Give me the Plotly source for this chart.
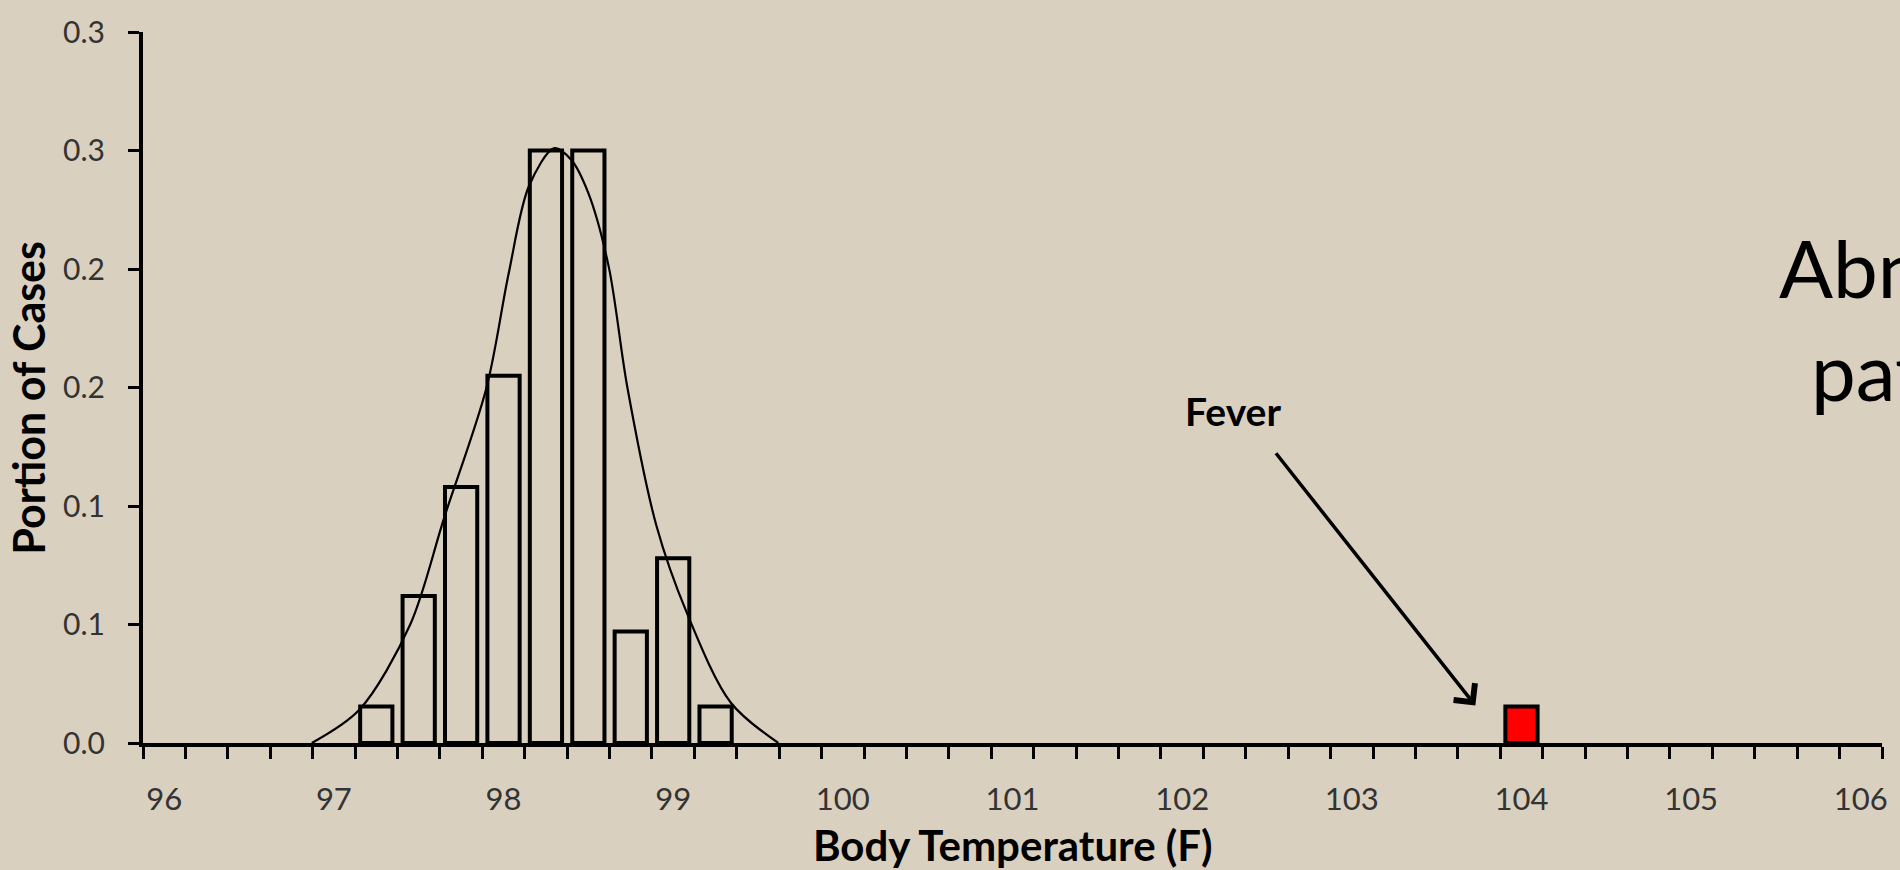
import plotly.graph_objects as go

# ---- data ----
temp_bins = [97.25, 97.5, 97.75, 98.0, 98.25, 98.5, 98.75, 99.0, 99.25]
portion = [0.0154, 0.062, 0.108, 0.155, 0.25, 0.25, 0.047, 0.078, 0.0154]
fever_bin = [104.0]
fever_portion = [0.0154]

curve_x = [96.87, 97.15, 97.45, 97.65, 97.90, 98.03, 98.15, 98.30, 98.40, 98.50,
           98.62, 98.73, 98.90, 99.08, 99.34, 99.62]
curve_y = [0.0, 0.014, 0.050, 0.095, 0.150, 0.198, 0.235, 0.251, 0.246, 0.232,
           0.201, 0.150, 0.092, 0.055, 0.017, 0.0]

x_tick_values = [96, 97, 98, 99, 100, 101, 102, 103, 104, 105, 106]
x_tick_labels = ["96", "97", "98", "99", "100", "101", "102", "103", "104", "105", "106"]
y_tick_values = [0.0, 0.05, 0.10, 0.15, 0.20, 0.25, 0.30]
y_tick_labels = ["0.0", "0.1", "0.1", "0.2", "0.2", "0.3", "0.3"]

x_title = "Body Temperature (F)"
y_title = "Portion of Cases"
fever_label = "Fever"
side_text = ["Abnormal", "pattern"]

FONT = "Lato"
BG = "#dad0bf"

fig = go.Figure()
fig.add_trace(go.Bar(
    x=temp_bins, y=portion, width=0.19,
    marker=dict(color="rgba(0,0,0,0)", line=dict(color="black", width=4)),
    showlegend=False, hoverinfo="skip",
))
fig.add_trace(go.Bar(
    x=fever_bin, y=fever_portion, width=0.19,
    marker=dict(color="#ff0000", line=dict(color="black", width=4)),
    showlegend=False, hoverinfo="skip",
))
fig.add_trace(go.Scatter(
    x=curve_x, y=curve_y, mode="lines",
    line=dict(color="black", width=2.2, shape="spline", smoothing=0.9),
    showlegend=False, hoverinfo="skip",
))

fig.update_layout(
    width=1900, height=870,
    paper_bgcolor=BG, plot_bgcolor="rgba(0,0,0,0)",
    margin=dict(l=143, r=14, t=24, b=127),
    font=dict(family=FONT, color="#333333"),
    barmode="overlay",
    xaxis=dict(
        range=[95.875, 106.125],
        tickvals=x_tick_values, ticktext=x_tick_labels,
        ticks="", showgrid=False, zeroline=False,
        showline=True, linecolor="black", linewidth=4,
        tickfont=dict(family=FONT, size=31, color="#333333"),
        ticklabelstandoff=26,
        minor=dict(ticks="outside", tick0=95.875, dtick=0.25, ticklen=12,
                   tickwidth=3, tickcolor="black", showgrid=False),
    ),
    yaxis=dict(
        range=[0, 0.30],
        tickvals=y_tick_values, ticktext=y_tick_labels,
        ticks="outside", ticklen=11, tickwidth=3, tickcolor="black",
        showgrid=False, zeroline=False,
        showline=True, linecolor="black", linewidth=4,
        tickfont=dict(family=FONT, size=30, color="#333333"),
        ticklabelstandoff=17,
    ),
)

annotations = [
    dict(text="<b>" + x_title + "</b>", xref="paper", yref="paper",
         x=0.5, y=-0.1766, xanchor="center", yanchor="bottom", yshift=-3,
         showarrow=False, font=dict(family=FONT, size=42, color="black")),
    dict(text="<b>" + y_title + "</b>", xref="paper", yref="paper",
         x=-0.066, y=0.486, xanchor="center", yanchor="middle", textangle=-90,
         showarrow=False, font=dict(family=FONT, size=43, color="black")),
    dict(text="<b>" + fever_label + "</b>", xref="x", yref="y",
         x=102.30, y=0.140, xanchor="center", yanchor="middle", showarrow=False,
         font=dict(family=FONT, size=39, color="black")),
    dict(text="", xref="x", yref="y", x=103.728, y=0.0158,
         axref="x", ayref="y", ax=102.546, ay=0.1229,
         showarrow=True, arrowhead=4, arrowsize=1.5, arrowwidth=3.5, arrowcolor="black"),
    dict(text=side_text[0], xref="paper", yref="paper", x=0.9395, y=0.67,
         xanchor="left", yanchor="middle", showarrow=False,
         font=dict(family=FONT, size=80, color="black")),
    dict(text=side_text[1], xref="paper", yref="paper", x=0.958, y=0.525,
         xanchor="left", yanchor="middle", showarrow=False,
         font=dict(family=FONT, size=80, color="black")),
]
fig.update_layout(annotations=annotations)

fig.write_html(
    "out.html",
    config={"displayModeBar": False},
    post_script="document.body.style.margin='0';document.body.style.overflow='hidden';",
)
